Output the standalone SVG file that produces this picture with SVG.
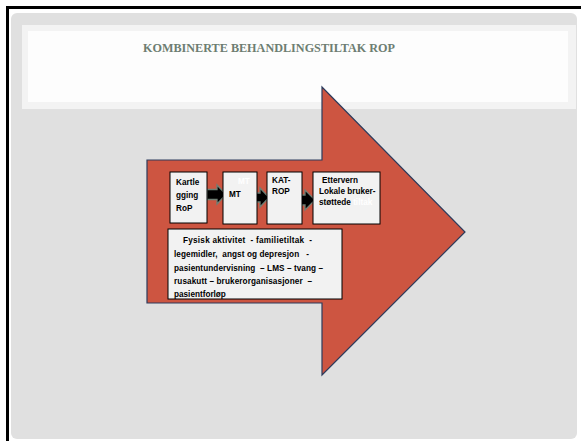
<svg xmlns="http://www.w3.org/2000/svg" width="581" height="441" viewBox="0 0 581 441">
<defs>
<style>
.box{fill:#f2f2f2;stroke:#000;stroke-width:1}
.t{font-family:"Liberation Sans",Arial,sans-serif;font-weight:bold;font-size:8.2px;fill:#000}
.w{fill:#ffffff}
.blk{fill:#000;stroke:#6f7f74;stroke-width:1.3;stroke-linejoin:miter}
</style>
</defs>
<rect x="0" y="0" width="581" height="441" fill="#ffffff"/>
<rect x="11" y="13" width="566" height="426" rx="6" fill="#e0e0e0"/>
<path d="M7.5 441 V7.5 H581" fill="none" stroke="#000" stroke-width="3"/>
<g id="title">
<rect x="22" y="25" width="554" height="84" fill="#f3f3f3"/>
<rect x="28" y="31" width="540" height="71" fill="#fdfdfd"/>
<text x="269" y="52" text-anchor="middle" font-family="'Liberation Serif','Times New Roman',serif" font-weight="bold" font-size="12.2" textLength="252" lengthAdjust="spacingAndGlyphs" fill="#6d7d72">KOMBINERTE BEHANDLINGSTILTAK ROP</text>
</g>
<g id="bigarrow">
<path d="M147 160 H322 V87 L465 232 L322 375 V303 H147 Z" fill="#cd5541" stroke="#2c3b5c" stroke-width="1.2"/>
</g>
<g id="connectors">
<path class="blk" d="M207 189.5 H217 V185 L226 194.5 L217 204 V199.5 H207 Z"/>
<path class="blk" d="M251 193 H260 V188 L269 197.5 L260 207 V202 H251 Z"/>
<path class="blk" d="M295 195 H305 V190 L315 200 L305 210 V205 H295 Z"/>
</g>
<g id="kartlegging">
<rect class="box" x="170" y="172" width="37" height="51"/>
<text class="t" x="176" y="185">Kartle</text>
<text class="t" x="176" y="198">gging</text>
<text class="t" x="176" y="211">RoP</text>
</g>
<g id="mt">
<rect class="box" x="223" y="172" width="34" height="52"/>
<text class="t w" x="238" y="184">MT</text>
<text class="t" x="229" y="197">MT</text>
</g>
<g id="katrop">
<rect class="box" x="267" y="172" width="35" height="52"/>
<text class="t" x="272" y="183">KAT-</text>
<text class="t" x="272" y="194">ROP</text>
</g>
<g id="ettervern">
<rect class="box" x="313" y="172" width="67" height="52"/>
<text class="t" x="322" y="183">Ettervern</text>
<text class="t" x="319" y="194">Lokale bruker-</text>
<text class="t" x="319" y="205">støttede <tspan class="w">tiltak</tspan></text>
</g>
<g id="tiltak">
<rect class="box" x="168" y="229" width="174" height="70"/>
<text class="t" x="183" y="243" xml:space="preserve" textLength="129" lengthAdjust="spacing">Fysisk aktivitet  - familietiltak  -</text>
<text class="t" x="174" y="257" xml:space="preserve" textLength="135" lengthAdjust="spacing">legemidler,  angst og depresjon   -</text>
<text class="t" x="174" y="271" xml:space="preserve" textLength="149" lengthAdjust="spacing">pasientundervisning  – LMS – tvang –</text>
<text class="t" x="174" y="284" xml:space="preserve" textLength="138" lengthAdjust="spacing">rusakutt – brukerorganisasjoner  –</text>
<text class="t" x="174" y="297">pasientforløp</text>
</g>
</svg>
